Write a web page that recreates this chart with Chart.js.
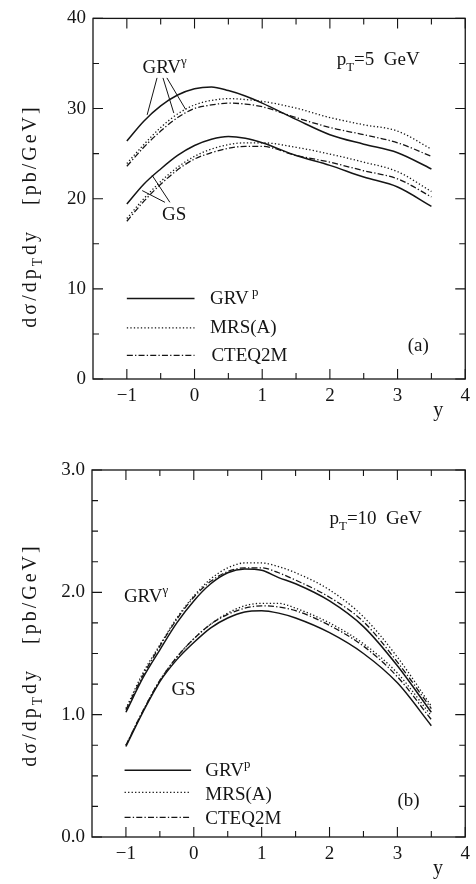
<!DOCTYPE html>
<html>
<head>
<meta charset="utf-8">
<script src="https://cdn.jsdelivr.net/npm/chart.js@4.4.1/dist/chart.umd.min.js"></script>
<style>
  html, body { margin: 0; padding: 0; background: #fff; }
  #page { position: relative; width: 476px; height: 884px; overflow: hidden; }
  canvas { position: absolute; left: 0; }
  #chartA { top: 0; }
  #chartB { top: 440px; }
</style>
</head>
<body>
<div id="page">
  <canvas id="chartA" width="476" height="440"></canvas>
  <canvas id="chartB" width="476" height="444"></canvas>
</div>
<script>
// rapidity values (x) and cross sections
const rapA = [-1, -0.75, -0.5, -0.25, 0, 0.25, 0.5, 0.75, 1, 1.5, 2, 2.5, 3, 3.5]
const a_grvgam_grvp = [26.4, 28.6, 30.3, 31.5, 32.2, 32.4, 32.0, 31.4, 30.6, 28.8, 27.1, 26.05, 25.1, 23.3]
const a_grvgam_mrs  = [23.9, 26.0, 27.9, 29.4, 30.4, 30.9, 31.1, 31.0, 30.8, 30.05, 29.0, 28.2, 27.5, 25.5]
const a_grvgam_cteq = [23.6, 25.7, 27.5, 29.0, 30.0, 30.4, 30.6, 30.5, 30.2, 29.0, 27.9, 27.1, 26.2, 24.7]
const a_gs_grvp = [19.4, 21.6, 23.3, 24.8, 25.9, 26.6, 26.9, 26.7, 26.2, 24.8, 23.7, 22.4, 21.3, 19.15]
const a_gs_mrs  = [17.8, 20.0, 21.9, 23.5, 24.7, 25.5, 26.0, 26.2, 26.2, 25.7, 24.95, 24.05, 23.0, 20.8]
const a_gs_cteq = [17.5, 19.7, 21.6, 23.2, 24.4, 25.1, 25.6, 25.8, 25.8, 24.8, 24.05, 23.1, 22.2, 20.2]

const rapB = [-1, -0.75, -0.5, -0.25, 0, 0.25, 0.5, 0.75, 1, 1.25, 1.5, 2, 2.5, 3, 3.5]
const b_grvgam_grvp = [1.02, 1.30, 1.53, 1.75, 1.93, 2.07, 2.16, 2.19, 2.18, 2.12, 2.07, 1.93, 1.72, 1.40, 1.02]
const b_grvgam_mrs  = [1.05, 1.34, 1.57, 1.79, 1.97, 2.11, 2.20, 2.24, 2.24, 2.21, 2.16, 2.02, 1.80, 1.47, 1.07]
const b_grvgam_cteq = [1.04, 1.32, 1.56, 1.78, 1.96, 2.09, 2.17, 2.20, 2.20, 2.16, 2.10, 1.96, 1.76, 1.43, 1.05]
const b_gs_grvp = [0.74, 1.02, 1.27, 1.45, 1.59, 1.71, 1.79, 1.84, 1.85, 1.83, 1.79, 1.67, 1.50, 1.26, 0.91]
const b_gs_mrs  = [0.75, 1.03, 1.28, 1.47, 1.62, 1.74, 1.83, 1.89, 1.91, 1.91, 1.87, 1.75, 1.58, 1.34, 0.99]
const b_gs_cteq = [0.75, 1.03, 1.28, 1.47, 1.62, 1.74, 1.82, 1.87, 1.89, 1.88, 1.85, 1.73, 1.56, 1.31, 0.96]

// axis ticks
const xTicks = [-1, 0, 1, 2, 3, 4]
const xMinor = [-0.5, 0.5, 1.5, 2.5, 3.5]
const yTicksA = [0, 10, 20, 30, 40]
const yMinorA = [5, 15, 25, 35]
const yTicksB = [0, 1, 2, 3]
const yMinorB = [0.25, 0.5, 0.75, 1.25, 1.5, 1.75, 2.25, 2.5, 2.75]

const FONT = '"Liberation Serif", "DejaVu Serif", serif'
const INK = '#151515'

const lineStyles = {
  grvp: { dash: [], width: 1.5 },
  mrs: { dash: [1.3, 2.2], width: 1.3 },
  cteq: { dash: [6, 2.2, 1.3, 2.2], width: 1.3 },
}

function series(rap, vals, st) {
  return {
    data: rap.map((x, i) => ({ x: x, y: vals[i] })),
    borderColor: INK,
    borderWidth: st.width,
    borderDash: st.dash,
    borderCapStyle: 'butt',
    pointRadius: 0,
    fill: false,
    cubicInterpolationMode: 'monotone',
  }
}

// text with sub/superscripts, returns width
function rich(ctx, parts, x, y, size, draw = true) {
  let cx = x
  for (const p of parts) {
    const small = p.sub || p.sup
    const s = small ? size * 0.68 : size
    ctx.font = s + 'px ' + FONT
    const dy = p.sub ? size * 0.3 : p.sup ? -size * 0.42 : 0
    if (draw) ctx.fillText(p.t, cx, y + dy)
    cx += ctx.measureText(p.t).width
  }
  return cx - x
}

// per-panel annotations (positions in data units)
const panels = {
  chartA: {
    yMajor: yTicksA, yMinor: yMinorA,
    titleCenter: 216,
    texts: [
      { parts: [{ t: 'p' }, { t: 'T', sub: true }, { t: '=5  GeV' }], x: 2.10, y: 34.8 },
      { parts: [{ t: 'GRV' }, { t: 'γ', sup: true }], x: -0.77, y: 33.9 },
      { parts: [{ t: 'GS' }], x: -0.48, y: 17.66 },
      { parts: [{ t: 'GRV' }, { t: ' p', sup: true }], x: 0.23, y: 8.28 },
      { parts: [{ t: 'MRS(A)' }], x: 0.23, y: 5.12 },
      { parts: [{ t: 'CTEQ2M' }], x: 0.25, y: 1.96 },
      { parts: [{ t: '(a)' }], x: 3.15, y: 3.16 },
    ],
    pointers: [
      [-0.554, 33.4, -0.70, 29.3], [-0.466, 33.4, -0.306, 29.5], [-0.408, 33.4, -0.131, 29.9],
      [-0.364, 19.6, -0.627, 22.6], [-0.437, 19.6, -0.773, 20.9],
    ],
    legend: [
      { st: 'grvp', y: 8.94 }, { st: 'mrs', y: 5.67 }, { st: 'cteq', y: 2.62 },
    ],
    legendX: [-1.0, 0.0],
  },
  chartB: {
    yMajor: yTicksB, yMinor: yMinorB,
    titleCenter: 655 - 440,
    texts: [
      { parts: [{ t: 'p' }, { t: 'T', sub: true }, { t: '=10  GeV' }], x: 2.0, y: 2.56 },
      { parts: [{ t: 'GRV' }, { t: 'γ', sup: true }], x: -1.03, y: 1.92 },
      { parts: [{ t: 'GS' }], x: -0.33, y: 1.16 },
      { parts: [{ t: 'GRV' }, { t: 'p', sup: true }], x: 0.17, y: 0.50 },
      { parts: [{ t: 'MRS(A)' }], x: 0.17, y: 0.30 },
      { parts: [{ t: 'CTEQ2M' }], x: 0.17, y: 0.105 },
      { parts: [{ t: '(b)' }], x: 3.0, y: 0.25 },
    ],
    pointers: [],
    legend: [
      { st: 'grvp', y: 0.545 }, { st: 'mrs', y: 0.365 }, { st: 'cteq', y: 0.16 },
    ],
    legendX: [-1.02, -0.04],
  },
}

const paperPlugin = {
  id: 'paper',
  afterDraw(chart) {
    const cfg = panels[chart.canvas.id]
    const ctx = chart.ctx
    const a = chart.chartArea
    const xs = chart.scales.x
    const ys = chart.scales.y
    ctx.save()
    ctx.strokeStyle = INK
    ctx.fillStyle = INK
    // frame
    ctx.lineWidth = 1.3
    ctx.setLineDash([])
    ctx.strokeRect(a.left, a.top, a.right - a.left, a.bottom - a.top)
    // inward ticks on all sides
    ctx.lineWidth = 1.1
    ctx.beginPath()
    const xt = xTicks.map(v => [v, 10]).concat(xMinor.map(v => [v, 6]))
    for (const [v, len] of xt) {
      const px = xs.getPixelForValue(v)
      ctx.moveTo(px, a.bottom); ctx.lineTo(px, a.bottom - len)
      ctx.moveTo(px, a.top); ctx.lineTo(px, a.top + len)
    }
    const yt = cfg.yMajor.map(v => [v, 10]).concat(cfg.yMinor.map(v => [v, 6]))
    for (const [v, len] of yt) {
      const py = ys.getPixelForValue(v)
      ctx.moveTo(a.left, py); ctx.lineTo(a.left + len, py)
      ctx.moveTo(a.right, py); ctx.lineTo(a.right - len, py)
    }
    ctx.stroke()

    // legend samples
    for (const l of cfg.legend) {
      const st = lineStyles[l.st]
      ctx.lineWidth = st.width
      ctx.setLineDash(st.dash)
      ctx.beginPath()
      const py = ys.getPixelForValue(l.y)
      ctx.moveTo(xs.getPixelForValue(cfg.legendX[0]), py)
      ctx.lineTo(xs.getPixelForValue(cfg.legendX[1]), py)
      ctx.stroke()
    }
    ctx.setLineDash([])

    // pointer lines
    ctx.lineWidth = 1
    ctx.beginPath()
    for (const p of cfg.pointers) {
      ctx.moveTo(xs.getPixelForValue(p[0]), ys.getPixelForValue(p[1]))
      ctx.lineTo(xs.getPixelForValue(p[2]), ys.getPixelForValue(p[3]))
    }
    ctx.stroke()

    // labels
    ctx.textBaseline = 'alphabetic'
    ctx.textAlign = 'left'
    for (const t of cfg.texts) {
      rich(ctx, t.parts, xs.getPixelForValue(t.x), ys.getPixelForValue(t.y), 19)
    }

    // x axis title
    ctx.font = '20px ' + FONT
    ctx.textAlign = 'center'
    ctx.fillText('y', xs.getPixelForValue(3.6), a.bottom + 37)

    // y axis title, rotated, spaced out like the original typesetting
    const tparts = [{ t: 'dσ/dp' }, { t: 'T', sub: true }, { t: 'dy' }, { t: '   [pb/GeV]' }]
    ctx.textAlign = 'left'
    ctx.letterSpacing = '3px'
    const w = rich(ctx, tparts, 0, 0, 20, false)
    ctx.translate(36, cfg.titleCenter)
    ctx.rotate(-Math.PI / 2)
    rich(ctx, tparts, -w / 2, 0, 20)
    ctx.restore()
  },
}

function makeChart(id, rap, sets, yMin, yMax, yTicks, yFmt, box) {
  const ctx = document.getElementById(id).getContext('2d')
  return new Chart(ctx, {
    type: 'line',
    data: {
      datasets: [
        series(rap, sets[0], lineStyles.grvp),
        series(rap, sets[1], lineStyles.mrs),
        series(rap, sets[2], lineStyles.cteq),
        series(rap, sets[3], lineStyles.grvp),
        series(rap, sets[4], lineStyles.mrs),
        series(rap, sets[5], lineStyles.cteq),
      ],
    },
    options: {
      responsive: false,
      animation: false,
      events: [],
      layout: { padding: { top: box.top, right: box.right, left: 0, bottom: 0 } },
      plugins: { legend: { display: false }, tooltip: { enabled: false } },
      scales: {
        x: {
          type: 'linear',
          min: -1.5,
          max: 4,
          afterBuildTicks: s => { s.ticks = xTicks.map(v => ({ value: v })) },
          afterFit: s => { s.height = box.xh },
          grid: { display: false, drawTicks: false },
          border: { display: false },
          ticks: {
            color: INK,
            padding: 6,
            maxRotation: 0,
            autoSkip: false,
            font: { family: FONT, size: 19 },
            callback: v => (v < 0 ? '\u2212' + Math.abs(v) : String(v)),
          },
        },
        y: {
          type: 'linear',
          min: yMin,
          max: yMax,
          afterBuildTicks: s => { s.ticks = yTicks.map(v => ({ value: v })) },
          afterFit: s => { s.width = box.left },
          grid: { display: false, drawTicks: false },
          border: { display: false },
          ticks: {
            color: INK,
            padding: 7,
            autoSkip: false,
            font: { family: FONT, size: 19 },
            callback: yFmt,
          },
        },
      },
    },
    plugins: [paperPlugin],
  })
}

makeChart('chartA', rapA,
  [a_grvgam_grvp, a_grvgam_mrs, a_grvgam_cteq, a_gs_grvp, a_gs_mrs, a_gs_cteq],
  0, 40, yTicksA, v => String(v),
  { top: 12, right: 5, left: 93, xh: 440 - 379 })

makeChart('chartB', rapB,
  [b_grvgam_grvp, b_grvgam_mrs, b_grvgam_cteq, b_gs_grvp, b_gs_mrs, b_gs_cteq],
  0, 3, yTicksB, v => v.toFixed(1),
  { top: 30, right: 6, left: 92, xh: 444 - 397 })
</script>
</body>
</html>
